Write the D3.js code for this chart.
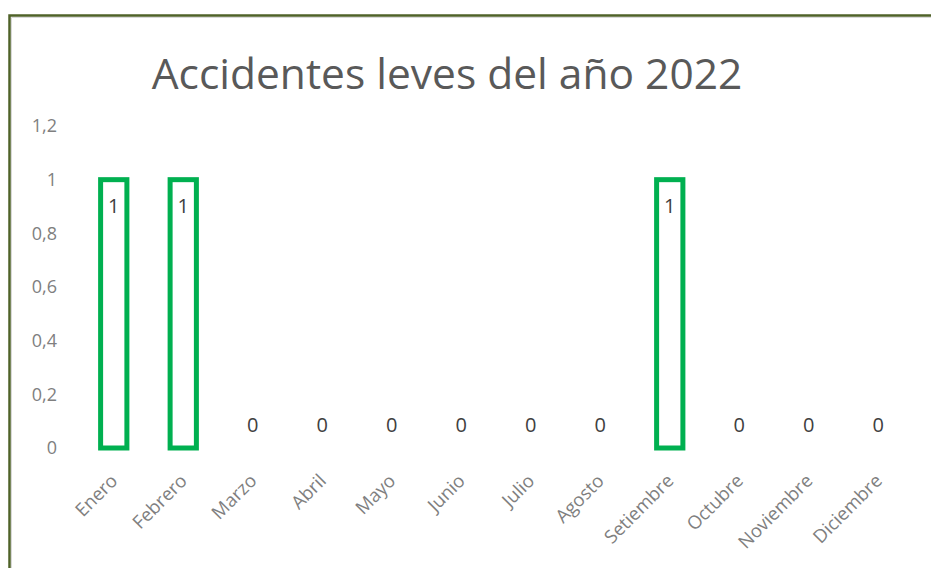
<!DOCTYPE html>
<html>
<head>
<meta charset="utf-8">
<script src="https://cdn.jsdelivr.net/npm/d3@7"></script>
<style>
  body { margin: 0; background: #fff; }
  svg { display: block; font-family: "Open Sans", "Noto Sans", sans-serif; }
  .tick-label { fill: #7f7f7f; font-size: 18px; }
  .x-label { fill: #7f7f7f; font-size: 18.5px; }
  .data-label { fill: #404040; font-size: 20px; }
  .title { fill: #595959; font-size: 42.5px; }
</style>
</head>
<body>
<svg id="chart" width="931" height="568"></svg>
<script>
var months = ['Enero', 'Febrero', 'Marzo', 'Abril', 'Mayo', 'Junio', 'Julio',
              'Agosto', 'Setiembre', 'Octubre', 'Noviembre', 'Diciembre'];
var accidents = [1, 1, 0, 0, 0, 0, 0, 0, 1, 0, 0, 0];
var yTicks = [0, 0.2, 0.4, 0.6, 0.8, 1, 1.2];
var chartTitle = 'Accidentes leves del año 2022';

var svg = d3.select('#chart'),
    left = 79,
    right = 913,
    top_y = 126,
    base_y = 448,
    green = '#00b050',
    stroke_w = 5;

// frame
svg.append('rect')
   .attr('x', 9.5).attr('y', 15.5)
   .attr('width', 940).attr('height', 600)
   .attr('fill', 'none')
   .attr('stroke', '#4f6228')
   .attr('stroke-width', 2.5);
svg.append('path')
   .attr('d', 'M11.5,' + 600 + 'V17.5H931')
   .attr('fill', 'none')
   .attr('stroke', '#d9d9d9')
   .attr('stroke-width', 1);

var x = d3.scaleBand().domain(months).range([left, right])
          .paddingInner(0.55).paddingOuter(0.275),
    y = d3.scaleLinear().domain([0, 1.2]).range([base_y, top_y]);

svg.append('text')
   .attr('class', 'title')
   .attr('x', 447)
   .attr('y', 89)
   .attr('text-anchor', 'middle')
   .text(chartTitle);

var fmt = function(d){ return String(+d.toFixed(1)).replace('.', ','); };

svg.append('g')
   .selectAll('text')
   .data(yTicks)
   .join('text')
   .attr('class', 'tick-label')
   .attr('x', 57)
   .attr('y', function(d){ return y(d); })
   .attr('dy', '0.35em')
   .attr('text-anchor', 'end')
   .text(fmt);

var bars = accidents.map(function(v, i){ return {m: months[i], v: v}; });

svg.append('g')
   .selectAll('rect')
   .data(bars.filter(function(d){ return d.v > 0; }))
   .join('rect')
   .attr('x', function(d){ return x(d.m) + stroke_w / 2; })
   .attr('y', function(d){ return y(d.v); })
   .attr('width', x.bandwidth() - stroke_w)
   .attr('height', function(d){ return base_y - y(d.v); })
   .attr('fill', 'none')
   .attr('stroke', green)
   .attr('stroke-width', stroke_w);

svg.append('g')
   .selectAll('text')
   .data(bars)
   .join('text')
   .attr('class', 'data-label')
   .attr('x', function(d){ return x(d.m) + x.bandwidth() / 2; })
   .attr('y', function(d){ return d.v > 0 ? y(d.v) + 33 : y(d.v) - 16; })
   .attr('text-anchor', 'middle')
   .text(function(d){ return d.v; });

svg.append('g')
   .selectAll('text')
   .data(months)
   .join('text')
   .attr('class', 'x-label')
   .attr('text-anchor', 'end')
   .attr('transform', function(d){
     return 'translate(' + (x(d) + x.bandwidth() / 2 + 5) + ',' + 482 + ') rotate(-45)';
   })
   .text(function(d){ return d; });
</script>
</body>
</html>
